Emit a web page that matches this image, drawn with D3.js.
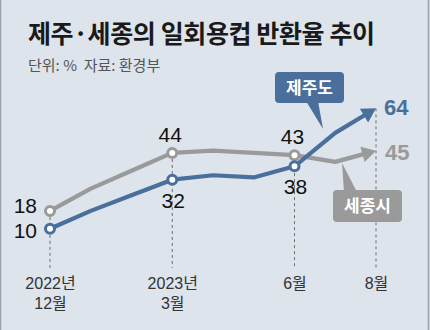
<!DOCTYPE html>
<html><head><meta charset="utf-8">
<script src="https://cdn.jsdelivr.net/npm/d3@7"></script>
<style>
html,body{margin:0;padding:0;background:#dde4ec;}
svg{display:block;}
</style></head>
<body>
<script>
const months = ["2022-12","2023-01","2023-02","2023-03","2023-04","2023-05","2023-06","2023-07","2023-08"];
const jeju =   [10, 18, 25, 32, 34, 33, 38, 53, 64];
const sejong = [18, 28, 36, 44, 45, 44, 43, 40, 45];
const labeledIdx = [0, 3, 6];
const tickIdx = [0, 3, 6, 8];
const tickLabels = [["2022년","12월"],["2023년","3월"],["6월"],["8월"]];
const title = "제주·세종의 일회용컵 반환율 추이";
const subtitle = "단위: %  자료: 환경부";
const seriesNames = ["제주도", "세종시"];

const W = 430, H = 330;
const BLUE = "#4b6f9c", GRAY = "#9a9a9a";
const KR = "'Noto Sans CJK KR','Noto Sans',sans-serif";
const NUM = "'Liberation Sans Narrow','Liberation Sans',Arial,sans-serif";
const TICK = "'Liberation Sans','Noto Sans CJK KR',sans-serif";

const svg = d3.select("body").append("svg").attr("width", W).attr("height", H);
svg.append("rect").attr("width", W).attr("height", H).attr("fill", "#dde4ec");
svg.append("line").attr("x1",0.5).attr("x2",0.5).attr("y1",0).attr("y2",H).attr("stroke","#9aa0a8").attr("stroke-width",1.5);
svg.append("line").attr("x1",428.5).attr("x2",428.5).attr("y1",0).attr("y2",H).attr("stroke","#9aa0a8").attr("stroke-width",1.5);

svg.append("text").attr("x", 28).attr("y", 43).text(title)
  .attr("font-family", KR).attr("font-weight", 700).attr("font-size", 25).attr("letter-spacing", -0.4).attr("fill", "#1a1a1a");
svg.append("text").attr("x", 28).attr("y", 71).text(subtitle)
  .style("white-space", "pre")
  .attr("font-family", KR).attr("font-size", 15).attr("fill", "#555");

const x = d3.scaleLinear().domain([0, months.length - 1]).range([50, 376]);
const y = d3.scaleLinear().domain([0, 70]).range([251, 95]);

// x axis labels (no axis line)
const axisG = svg.append("g").attr("transform", "translate(0,268)");
const xAxis = d3.axisBottom(x).tickValues(tickIdx).tickSize(0).tickFormat("");
axisG.call(xAxis);
axisG.select(".domain").remove();
axisG.selectAll(".tick").each(function(d, i) {
  const t = d3.select(this).append("text").attr("fill", "#333").attr("font-family", TICK)
    .attr("font-size", 16).attr("text-anchor", "middle").attr("y", 21);
  tickLabels[i].forEach((s, j) => {
    t.append("tspan").attr("x", 0).attr("dy", j === 0 ? 0 : 20).text(s);
  });
});

// dashed guides
const topVal = i => Math.max(jeju[i], sejong[i]);
svg.append("g").selectAll("line").data(tickIdx).join("line")
  .attr("x1", d => x(d)).attr("x2", d => x(d))
  .attr("y1", d => y(topVal(d))).attr("y2", 268)
  .attr("stroke", "#6e6e6e").attr("stroke-width", 1).attr("stroke-dasharray", "3,3");

function drawSeries(vals, color) {
  const pts = vals.map((v, i) => [x(i), y(v)]);
  const n = pts.length;
  const tip = pts[n - 1], prev = pts[n - 2];
  const dx = tip[0] - prev[0], dy = tip[1] - prev[1];
  const L = Math.hypot(dx, dy), ux = dx / L, uy = dy / L;
  const headLen = 14, headW = 8;
  const linePts = pts.slice(0, n - 1).concat([[tip[0] - ux * (headLen - 2), tip[1] - uy * (headLen - 2)]]);
  svg.append("path").attr("d", d3.line()(linePts)).attr("fill", "none")
    .attr("stroke", color).attr("stroke-width", 4.2).attr("stroke-linejoin", "round");
  const bx = tip[0] - ux * headLen, by = tip[1] - uy * headLen;
  svg.append("path").attr("d", d3.line()([[tip[0], tip[1]], [bx - uy * headW, by + ux * headW], [bx + uy * headW, by - ux * headW]]) + "Z")
    .attr("fill", color);
  svg.append("g").selectAll("circle").data(labeledIdx).join("circle")
    .attr("cx", d => x(d)).attr("cy", d => y(vals[d])).attr("r", 4.5)
    .attr("fill", "#fff").attr("stroke", color).attr("stroke-width", 3);
}
drawSeries(sejong, GRAY);
drawSeries(jeju, BLUE);

// value labels
const lab = svg.append("g").attr("font-family", NUM).attr("font-size", 21).attr("fill", "#111");
lab.append("text").attr("x", x(0) - 13).attr("y", y(sejong[0]) + 2).attr("text-anchor", "end").text(sejong[0]);
lab.append("text").attr("x", x(0) - 13).attr("y", y(jeju[0]) + 9).attr("text-anchor", "end").text(jeju[0]);
[3, 6].forEach(i => {
  lab.append("text").attr("x", x(i) - 2).attr("y", y(sejong[i]) - 11).attr("text-anchor", "middle").text(sejong[i]);
  lab.append("text").attr("x", x(i) + 1).attr("y", y(jeju[i]) + 28).attr("text-anchor", "middle").text(jeju[i]);
});
const last = months.length - 1;
svg.append("text").attr("x", x(last) + 8).attr("y", y(jeju[last]) + 7).text(jeju[last])
  .attr("font-family", NUM).attr("font-weight", 700).attr("font-size", 22).attr("fill", BLUE);
svg.append("text").attr("x", x(last) + 9).attr("y", y(sejong[last]) + 9).text(sejong[last])
  .attr("font-family", NUM).attr("font-weight", 700).attr("font-size", 22).attr("fill", GRAY);

// callout boxes
function callout(text, bx, by, bw, bh, color, tail) {
  const g = svg.append("g");
  g.append("path").attr("d", d3.line()(tail) + "Z").attr("fill", color);
  g.append("rect").attr("x", bx).attr("y", by).attr("width", bw).attr("height", bh).attr("rx", 4).attr("fill", color);
  g.append("text").attr("x", bx + bw / 2).attr("y", by + bh / 2 + 6).attr("text-anchor", "middle")
    .attr("font-family", KR).attr("font-weight", 700).attr("font-size", 17).attr("fill", "#fff").text(text);
}
callout(seriesNames[0], 275, 72, 69, 31, BLUE, [[306, 101], [318, 101], [323, 129]]);
callout(seriesNames[1], 333, 190, 69, 32, GRAY, [[344, 192], [357, 192], [342, 163]]);
</script>
</body></html>
